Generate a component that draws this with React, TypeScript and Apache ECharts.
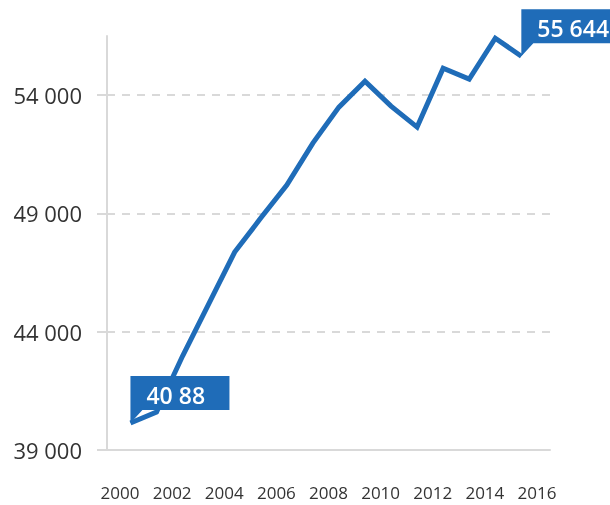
import React, { useEffect, useRef } from "react";
import * as echarts from "echarts";

const categoryYears = ["2000","2001","2002","2003","2004","2005","2006","2007","2008","2009","2010","2011","2012","2013","2014","2015","2016"];
const pointYears = [2000,2001,2002,2003,2004,2005,2006,2007,2008,2009,2010,2011,2012,2013,2014,2015];
const values = [40141,40606,42972,45169,47366,48803,50197,51972,53493,54591,53535,52648,55141,54676,56408,55644];
const yTicks = [39000, 44000, 49000, 54000];
const calloutLabels = ["40 88", "55 644"];

const FONT = "'Open Sans', 'Noto Sans', sans-serif";
const BLUE = "#1f6cb8";
const GRAY = "#d9d9d9";

const fmt = (v: number) => String(v).replace(/\B(?=(\d{3})+(?!\d))/g, " ");

export default function App() {
  const ref = useRef<HTMLDivElement>(null);
  useEffect(() => {
    if (!ref.current) return;
    const chart = echarts.init(ref.current, undefined, { renderer: "svg" });
    const lastIdx = values.length - 1;
    chart.setOption({
      animation: false,
      textStyle: { fontFamily: FONT },
      grid: { left: 107, right: 60, top: 36, bottom: 55, outerBoundsMode: "none" },
      xAxis: [
        {
          type: "category",
          data: categoryYears,
          boundaryGap: true,
          axisLine: { lineStyle: { color: GRAY, width: 2 } },
          axisTick: { interval: 0, length: 11, lineStyle: { color: GRAY, width: 2 } },
          axisLabel: { interval: 1, fontSize: 17, color: "#333", margin: 34, fontFamily: FONT },
          splitLine: { show: false },
        },
        { type: "value", min: 1999.1, max: 2016.1, show: false },
      ],
      yAxis: {
        type: "value",
        min: 39000,
        max: 56500,
        interval: 5000,
        axisLine: { show: true, lineStyle: { color: GRAY, width: 2 } },
        axisTick: { show: true, length: 10, customValues: yTicks, lineStyle: { color: GRAY, width: 2 } },
        axisLabel: { customValues: yTicks, fontSize: 22, color: "#333", margin: 25, fontFamily: FONT, formatter: (v: number) => fmt(v) },
        splitLine: { show: true, showMinLine: false, lineStyle: { color: GRAY, width: 2, type: [8, 7] } },
      },
      series: [
        {
          type: "line",
          xAxisIndex: 1,
          data: pointYears.map((y, i) => [y, values[i]]),
          symbol: "none",
          lineStyle: { color: BLUE, width: 5, join: "miter" },
          z: 3,
          markPoint: {
            symbol: "path://M0,0 L99,0 L99,34 L12,34 L0,47 Z",
            symbolSize: [99, 47],
            symbolOffset: ["50%", "-50%"],
            itemStyle: { color: BLUE },
            label: {
              show: true,
              position: [16, 19],
              align: "left",
              verticalAlign: "middle",
              formatter: "{b}",
              color: "#fff",
              fontSize: 23,
              fontWeight: 600,
              fontFamily: FONT,
            },
            data: [
              { name: calloutLabels[0], coord: [pointYears[0], values[0]] },
              { name: calloutLabels[1], coord: [pointYears[lastIdx], values[lastIdx]] },
            ],
          },
        },
      ],
    });
    return () => chart.dispose();
  }, []);
  return <div ref={ref} style={{ position: "fixed", left: 0, top: 0, width: 610, height: 505 }} />;
}
